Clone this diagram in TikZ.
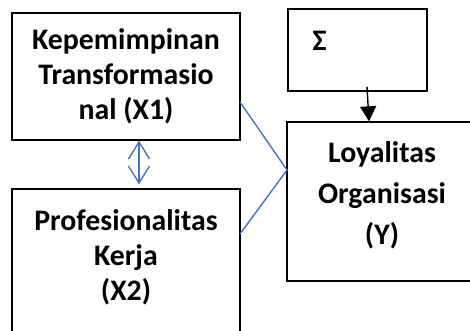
\documentclass[tikz,border=0pt]{standalone}
\usepackage{fontspec}
\setmainfont{Carlito}
\usetikzlibrary{arrows.meta}

\definecolor{linkblue}{RGB}{68,114,196}

\begin{document}
\begin{tikzpicture}[
        x=1pt, y=-1pt,
        >=latex,
        font=\fontsize{29.8}{35}\selectfont\bfseries,
        every node/.style={align=center},
        box/.style={draw, line width=1.3pt, inner sep=0pt},
        link/.style={draw=linkblue, line width=1.4pt}
    ]

        % --- Rahmen ---
        \useasboundingbox (0,0) rectangle (470,331);
        \clip (0,0) rectangle (470,331);

        % --- Koordinaten ---
        \def\leftx{126}
        \def\rightx{382}

        % --- Kästen links ---
        \node[box, minimum width=228, minimum height=127] (x1) at (\leftx, 76.5)
            {Kepemimpinan\\Transformasio\\nal (X1)};
        \node[box, minimum width=228, minimum height=154] (x2) at (\leftx, 266) {};
        \node (x2text) at (\leftx, 257) {Profesionalitas\\Kerja\\(X2)};

        % --- Kästen rechts ---
        \node[box, minimum width=139, minimum height=82] (sig) at (357.5, 50) {};
        \node[anchor=base west] (sigtext) at (309, 51) {Σ};
        \node[box, minimum width=190, minimum height=159] (loy) at (\rightx, 201.5) {};
        \node[font=\fontsize{29.8}{41}\selectfont\bfseries] (loytext) at (\rightx, 195.5)
            {Loyalitas\\Organisasi\\(Y)};

        % --- Verbindungen ---
        \coordinate (x1out) at (240, 102);
        \coordinate (x2out) at (240, 234);
        \coordinate (meet) at (287, 170);
        \draw[link] (x1out) -- (meet) -- (x2out);

        \draw[link, {Straight Barb[length=17pt,width=21pt]}-{Straight Barb[length=17pt,width=21pt]}]
            ([xshift=13pt]x1.south) -- ([xshift=13pt, yshift=4pt]x2.north);

        \draw[line width=1.4pt, -{Triangle[length=15pt,width=16pt]}]
            ([xshift=9.5pt, yshift=5pt]sig.south) -- ([xshift=-13pt]loy.north);

    \end{tikzpicture}
\end{document}
